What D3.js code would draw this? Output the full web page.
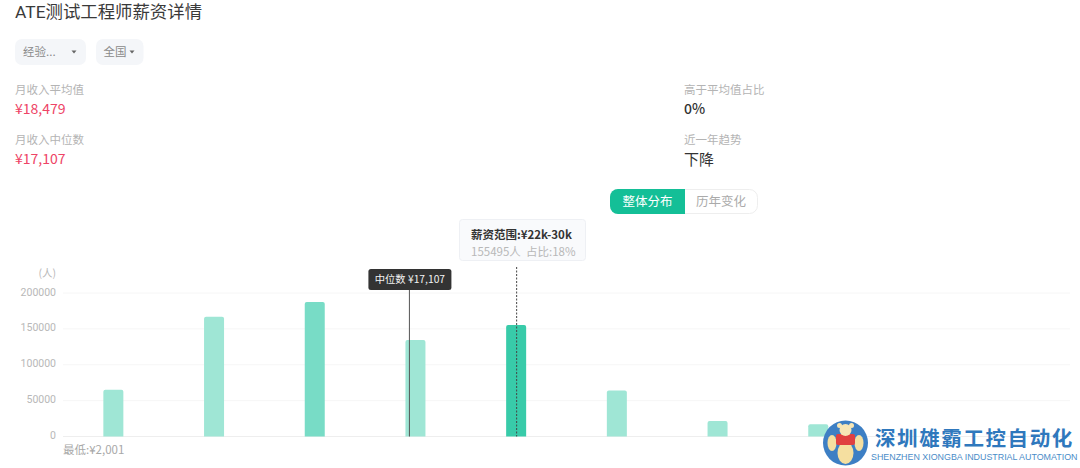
<!DOCTYPE html>
<html><head><meta charset="utf-8">
<script src="https://cdn.jsdelivr.net/npm/d3@7/dist/d3.min.js"></script>
<style>html,body{margin:0;padding:0;background:#fff;overflow:hidden}svg{display:block;font-family:"Noto Sans CJK SC","Noto Sans",sans-serif}text{white-space:pre}</style>
</head><body><svg id="c" width="1080" height="468"></svg>
<script>
const categories = ["2k-5k","5k-8k","8k-12k","12k-17k","22k-30k","30k-40k","40k-50k","50k+"];
const counts = [65000, 167000, 187500, 134500, 155495, 64000, 21500, 17000];
const barColors = ["#9fe6d5","#9fe6d5","#78dcc6","#9fe6d5","#38cba9","#9fe6d5","#9fe6d5","#9fe6d5"];
const yTicks = [0, 50000, 100000, 150000, 200000];
const medianBandPos = 3.44;
const selectedIndex = 4;

const svg = d3.select("#c");
const M = {l:63, r:1070, t:293, b:436.5};
const x = d3.scaleBand().domain(categories.concat(["a","b"])).range([M.l,M.r]);
const xPos = d3.scaleLinear().domain([0,10]).range([M.l,M.r]);
const y = d3.scaleLinear().domain([0,200000]).range([M.b,M.t]);

function T(px,py,s,size,fill,opt={}){
  const t=svg.append("text").attr("x",px).attr("y",py).text(s).attr("font-size",size).attr("fill",fill);
  if(opt.anchor)t.attr("text-anchor",opt.anchor);
  if(opt.weight)t.attr("font-weight",opt.weight);
  if(opt.family)t.attr("font-family",opt.family);
  return t;
}
// header
T(15,18,"ATE测试工程师薪资详情",17.4,"#3a3a3a",{family:"Roboto,'Noto Sans CJK SC',sans-serif"});
svg.append("rect").attr("x",15).attr("y",39).attr("width",71).attr("height",26).attr("rx",7).attr("fill","#f4f6f9");
T(23,56,"经验...",11.5,"#8a8a8a");
svg.append("path").attr("d","M71.5 50.5h5l-2.5 3z").attr("fill","#666");
svg.append("rect").attr("x",96).attr("y",39).attr("width",47.5).attr("height",26).attr("rx",7).attr("fill","#f4f6f9");
T(103.5,56,"全国",11.5,"#8a8a8a");
svg.append("path").attr("d","M129.5 50.5h5l-2.5 3z").attr("fill","#666");
// stats
T(15,94,"月收入平均值",11.5,"#b4b4b4");
T(15,114,"¥18,479",14,"#ee4466");
T(15,144,"月收入中位数",11.5,"#b4b4b4");
T(15,164,"¥17,107",14,"#ee4466");
T(684,94,"高于平均值占比",11.5,"#b4b4b4");
T(684,114,"0%",14,"#333",{weight:500});
T(684,144,"近一年趋势",11.5,"#b4b4b4");
T(684,165,"下降",15,"#333");
// toggle
svg.append("rect").attr("x",610.5).attr("y",189.5).attr("width",147).attr("height",24).attr("rx",8).attr("fill","#fff").attr("stroke","#eeeeee");
svg.append("path").attr("d","M618 189h67v25h-67a8 8 0 0 1-8-8v-9a8 8 0 0 1 8-8z").attr("fill","#14bf97");
T(647.5,206,"整体分布",12.5,"#fff",{anchor:"middle"});
T(721,206,"历年变化",12.5,"#aaa",{anchor:"middle"});
// grid
svg.append("g").selectAll("line").data(yTicks).join("line")
  .attr("x1",M.l).attr("x2",M.r).attr("y1",d=>y(d)).attr("y2",d=>y(d))
  .attr("stroke",d=>d===0?"#eeeeee":"#f6f6f6");
svg.append("g").selectAll("text").data(yTicks).join("text")
  .attr("x",56).attr("y",d=>y(d)+2.5).attr("text-anchor","end").attr("font-size",10.5).attr("fill","#b8b8b8")
  .attr("font-family","Roboto,sans-serif").text(d=>d);
T(56,277,"(人)",10.5,"#b8b8b8",{anchor:"end"});
T(63,454,"最低:¥2,001",11.5,"#a8a8a8");
// bars
const bw=20;
svg.append("g").selectAll("path").data(categories).join("path")
  .attr("fill",(d,i)=>barColors[i])
  .attr("d",(d,i)=>{
    const cx=x(d)+x.bandwidth()/2, t=y(counts[i]), b=y(0), l=cx-bw/2, r=cx+bw/2;
    return `M${l} ${b}V${t+2}Q${l} ${t} ${l+2} ${t}H${r-2}Q${r} ${t} ${r} ${t+2}V${b}Z`;
  });
// median
const mx=xPos(medianBandPos);
svg.append("line").attr("x1",mx).attr("x2",mx).attr("y1",288).attr("y2",y(0)).attr("stroke","#555").attr("stroke-width",1);
svg.append("rect").attr("x",mx-41).attr("y",269).attr("width",83).attr("height",21).attr("rx",2.5).attr("fill","#333");
T(mx+0.5,282.5,"中位数 ¥17,107",10.3,"#f2f2f2",{anchor:"middle"});
// selected line + tooltip
const sel=categories[selectedIndex], sx=x(sel)+x.bandwidth()/2+0.5;
svg.append("line").attr("x1",sx).attr("x2",sx).attr("y1",267).attr("y2",y(0)).attr("stroke","#444").attr("stroke-dasharray","2 1.5");
svg.append("rect").attr("x",459.5).attr("y",219.5).attr("width",126).attr("height",41).attr("rx",3).attr("fill","#f9fafc").attr("stroke","#eef0f4");
T(471,239,"薪资范围:¥22k-30k",11.5,"#333",{weight:700});
T(471,256,"155495人  占比:18%",11.5,"#b8b8b8");
// logo
const lg=svg.append("g");
lg.append("circle").attr("cx",845.5).attr("cy",443).attr("r",22.5).attr("fill","#3d7fc4");
lg.append("ellipse").attr("cx",845.5).attr("cy",453).attr("rx",8).attr("ry",11).attr("fill","#f5dfa0");
lg.append("ellipse").attr("cx",832).attr("cy",443).attr("rx",4.5).attr("ry",8).attr("fill","#f5dfa0");
lg.append("ellipse").attr("cx",859).attr("cy",443).attr("rx",4.5).attr("ry",8).attr("fill","#f5dfa0");
lg.append("rect").attr("x",836).attr("y",434).attr("width",19).attr("height",11).attr("rx",2).attr("fill","#e04040");
lg.append("circle").attr("cx",839.5).attr("cy",425.5).attr("r",2.5).attr("fill","#f7e6b5");
lg.append("circle").attr("cx",851.5).attr("cy",425.5).attr("r",2.5).attr("fill","#f7e6b5");
lg.append("circle").attr("cx",845.5).attr("cy",430).attr("r",6).attr("fill","#f7e6b5");
T(875,446,"深圳雄霸工控自动化",20.5,"#2f78bd",{weight:700}).attr("letter-spacing","1.6px");
T(871,459.5,"SHENZHEN XIONGBA INDUSTRIAL AUTOMATION",8.9,"#4a8cc8",{family:"Liberation Sans,sans-serif"});
</script></body></html>
